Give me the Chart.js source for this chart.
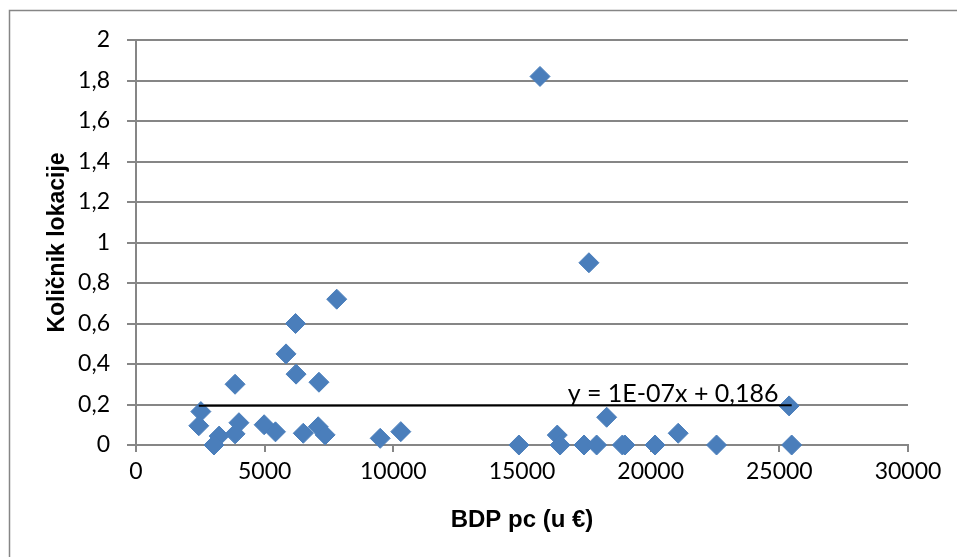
<!DOCTYPE html>
<html>
<head>
<meta charset="utf-8">
<script src="https://cdn.jsdelivr.net/npm/chart.js@4/dist/chart.umd.min.js"></script>
<style>
  html, body { margin: 0; padding: 0; background: #fff; }
  #wrap { position: relative; width: 957px; height: 557px; }
</style>
</head>
<body>
<div id="wrap"><canvas id="lqChart" width="957" height="557"></canvas></div>
<script>
// BDP pc (u €) and location quotient
var gdpValues = [15700, 17600, 7800, 6200, 5830, 6220, 7110, 3850, 2520, 2440,
                 3230, 3030, 4000, 3850, 4980, 5420, 6500, 7080, 7350, 9490,
                 10290, 14880, 16370, 16480, 17410, 17900, 18290, 18900, 19000, 20170,
                 21070, 22560, 25380, 25480];
var lqValues  = [1.82, 0.90, 0.72, 0.60, 0.45, 0.35, 0.31, 0.30, 0.165, 0.095,
                 0.044, 0.00, 0.11, 0.055, 0.10, 0.065, 0.058, 0.09, 0.05, 0.033,
                 0.066, 0.00, 0.049, 0.00, 0.00, 0.00, 0.137, 0.00, 0.00, 0.00,
                 0.058, 0.00, 0.193, 0.00];

// linear trendline as drawn (ends at min / max x)
var trendX = [2440, 25480];
var trendY = [0.194, 0.196];
var trendLabel = 'y = 1E-07x + 0,186';

var xTickLabels = ['0', '5000', '10000', '15000', '20000', '25000', '30000'];
var yTickLabels = ['0', '0,2', '0,4', '0,6', '0,8', '1', '1,2', '1,4', '1,6', '1,8', '2'];

var gridGray = '#868686';
var markerBlue = '#4A7EBB';

function toPoints(xs, ys) {
    var pts = [];
    for (var i = 0; i < xs.length; i++) {
        pts.push({ x: xs[i], y: ys[i] });
    }
    return pts;
}

// frame lines + equation text
var extrasPlugin = {
    id: 'extras',
    beforeDraw: function(chart) {
        var ctx = chart.ctx;
        ctx.save();
        ctx.strokeStyle = gridGray;
        ctx.lineWidth = 1.5;
        ctx.beginPath();
        ctx.moveTo(9.5, 557);
        ctx.lineTo(9.5, 10.5);
        ctx.lineTo(957, 10.5);
        ctx.stroke();
        ctx.restore();
    },
    afterDatasetsDraw: function(chart) {
        var ctx = chart.ctx;
        var xs = chart.scales.x, ys = chart.scales.y;
        ctx.save();
        ctx.font = '25px Lato';
        ctx.fillStyle = '#000';
        ctx.textAlign = 'center';
        ctx.textBaseline = 'middle';
        ctx.fillText(trendLabel, xs.getPixelForValue(20870), ys.getPixelForValue(0.252));
        ctx.restore();
    }
};

new Chart(document.getElementById('lqChart').getContext('2d'), {
    type: 'scatter',
    data: {
        datasets: [{
            label: 'Trend',
            type: 'line',
            data: toPoints(trendX, trendY),
            borderColor: '#000',
            borderWidth: 2,
            pointRadius: 0,
            fill: false,
            order: 0,
            clip: false
        }, {
            label: 'LQ',
            data: toPoints(gdpValues, lqValues),
            pointStyle: 'rectRot',
            pointRadius: 10,
            pointBackgroundColor: markerBlue,
            pointBorderColor: markerBlue,
            pointBorderWidth: 1,
            order: 1,
            clip: false
        }]
    },
    options: {
        responsive: false,
        animation: false,
        events: [],
        layout: {
            autoPadding: false,
            padding: { left: 0, top: 40, right: 49, bottom: 0 }
        },
        plugins: {
            legend: { display: false },
            tooltip: { enabled: false }
        },
        scales: {
            x: {
                type: 'linear',
                min: 0,
                max: 30000,
                afterFit: function(scale) { scale.height = 557 - 445; },
                ticks: {
                    stepSize: 5000,
                    padding: 6,
                    color: '#000',
                    font: { family: 'Lato', size: 23 },
                    callback: function(v, i) { return xTickLabels[i]; }
                },
                grid: {
                    drawOnChartArea: false,
                    drawTicks: true,
                    tickLength: 7,
                    color: gridGray,
                    lineWidth: 2
                },
                border: { color: gridGray, width: 2 },
                title: {
                    display: true,
                    text: 'BDP pc (u €)',
                    color: '#000',
                    font: { family: 'Liberation Sans', size: 24, weight: 'bold' },
                    padding: { top: 0, bottom: 22 }
                }
            },
            y: {
                min: 0,
                max: 2,
                afterFit: function(scale) { scale.width = 136; },
                ticks: {
                    stepSize: 0.2,
                    padding: 17,
                    color: '#000',
                    font: { family: 'Lato', size: 23 },
                    callback: function(v, i) { return yTickLabels[i]; }
                },
                grid: {
                    color: gridGray,
                    lineWidth: 2,
                    tickLength: 9
                },
                border: { color: gridGray, width: 2 },
                title: {
                    display: true,
                    text: 'Količnik lokacije',
                    color: '#000',
                    font: { family: 'Liberation Sans', size: 23, weight: 'bold' },
                    padding: { top: 44, bottom: 0 }
                }
            }
        }
    },
    plugins: [extrasPlugin]
});
</script>
</body>
</html>
